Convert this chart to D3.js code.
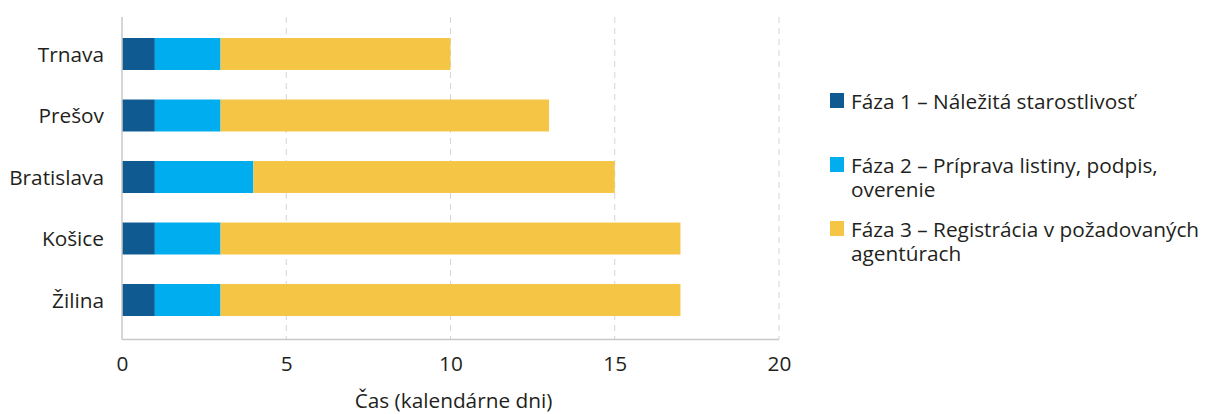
<!DOCTYPE html>
<html>
<head>
<meta charset="utf-8">
<script src="https://cdn.jsdelivr.net/npm/d3@7"></script>
<style>
  html, body { margin: 0; padding: 0; background: #fff; }
  svg { display: block; }
  text { font-family: "Open Sans", sans-serif; fill: #231f20; }
</style>
</head>
<body>
<svg id="chart" width="1213" height="414"></svg>
<script>
// Cities (top to bottom) and duration of each phase in calendar days
const cities = ["Trnava", "Prešov", "Bratislava", "Košice", "Žilina"];
const phase1 = [1, 1, 1, 1, 1];
const phase2 = [2, 2, 3, 2, 2];
const phase3 = [7, 10, 11, 14, 14];

const phaseNames = [
  ["Fáza 1 – Náležitá starostlivosť"],
  ["Fáza 2 – Príprava listiny, podpis,", "overenie"],
  ["Fáza 3 – Registrácia v požadovaných", "agentúrach"]
];
const phaseColors = ["#0e5a91", "#00aeef", "#f5c646"];
const xTicks = [0, 5, 10, 15, 20];
const axisTitle = "Čas (kalendárne dni)";

const FONT = "20.8px";
const svg = d3.select("#chart");
const plot = { left: 122, right: 779, top: 17, bottom: 339.5 };

const x = d3.scaleLinear().domain([0, 20]).range([plot.left, plot.right]);
const y = d3.scaleBand().domain(cities)
  .range([23.25, 330.75]).paddingInner(0.48).paddingOuter(0.24);

// dashed vertical gridlines
svg.append("g").selectAll("line").data(xTicks.filter(d => d > 0)).join("line")
  .attr("x1", d => x(d)).attr("x2", d => x(d))
  .attr("y1", plot.top).attr("y2", plot.bottom)
  .attr("stroke", "#d4d4d4").attr("stroke-width", 1)
  .attr("stroke-dasharray", "6,5");

// stacked bars
const rows = cities.map((c, i) => ({ city: c, p1: phase1[i], p2: phase2[i], p3: phase3[i] }));
const stack = d3.stack().keys(["p1", "p2", "p3"])(rows);

svg.append("g").selectAll("g").data(stack).join("g")
  .attr("fill", (d, i) => phaseColors[i])
  .selectAll("rect").data(d => d).join("rect")
  .attr("x", d => x(d[0]))
  .attr("width", d => x(d[1]) - x(d[0]))
  .attr("y", d => y(d.data.city))
  .attr("height", y.bandwidth());

// axis lines
svg.append("line")
  .attr("x1", plot.left).attr("x2", plot.left)
  .attr("y1", plot.top).attr("y2", plot.bottom)
  .attr("stroke", "#c8c8c8").attr("stroke-width", 1.5);
svg.append("line")
  .attr("x1", plot.left).attr("x2", plot.right)
  .attr("y1", plot.bottom).attr("y2", plot.bottom)
  .attr("stroke", "#c8c8c8").attr("stroke-width", 1.5);

// x tick labels
const xAxis = d3.axisBottom(x).tickValues(xTicks).tickSize(0).tickPadding(0);
const gx = svg.append("g").attr("transform", `translate(0,${plot.bottom})`).call(xAxis);
gx.select(".domain").remove();
gx.selectAll("text")
  .attr("dy", null).attr("y", 31)
  .style("font-family", "'Open Sans', sans-serif")
  .style("font-size", FONT).style("fill", "#231f20");

// category labels
const yAxis = d3.axisLeft(y).tickSize(0).tickPadding(0);
const gy = svg.append("g").attr("transform", `translate(104,0)`).call(yAxis);
gy.select(".domain").remove();
gy.selectAll("text")
  .attr("dy", "0.36em").attr("x", 0)
  .style("font-family", "'Open Sans', sans-serif")
  .style("font-size", FONT).style("fill", "#231f20");

// axis title
svg.append("text")
  .attr("x", (plot.left + plot.right) / 2 + 3).attr("y", 408)
  .attr("text-anchor", "middle")
  .style("font-size", FONT)
  .text(axisTitle);

// legend: swatch plus one text element per line
const legendTop = [93, 157, 221];
const lg = svg.append("g");
phaseNames.forEach((lines, i) => {
  lg.append("rect")
    .attr("x", 830).attr("y", legendTop[i])
    .attr("width", 14).attr("height", 15)
    .attr("fill", phaseColors[i]);
  lines.forEach((ln, j) => {
    lg.append("text")
      .attr("x", 851).attr("y", legendTop[i] + 16 + j * 24)
      .style("font-size", FONT)
      .text(ln);
  });
});
</script>
</body>
</html>
